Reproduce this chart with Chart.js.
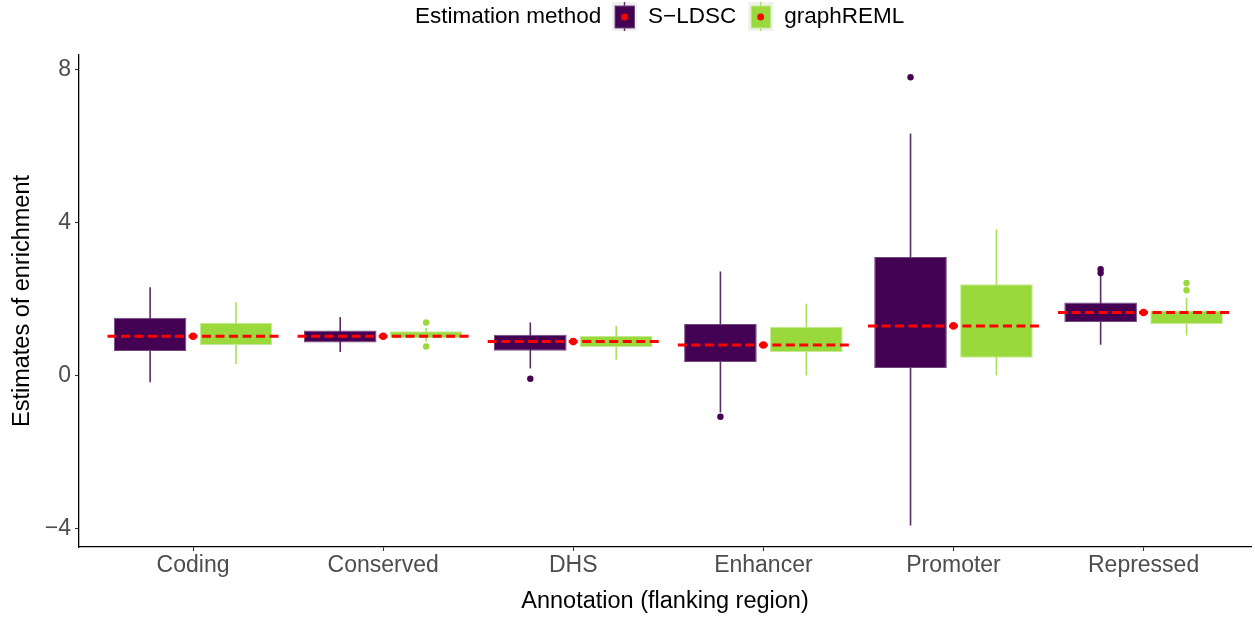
<!DOCTYPE html>
<html>
<head>
<meta charset="utf-8">
<title>Estimates of enrichment by annotation</title>
<script src="https://cdn.jsdelivr.net/npm/chart.js@4.4.1/dist/chart.umd.min.js"></script>
<style>
  html, body { margin: 0; padding: 0; background: #ffffff; }
  #wrap { position: relative; width: 1255px; height: 619px; }
</style>
</head>
<body>
<div id="wrap"><canvas id="chart"></canvas></div>
<script>
// Annotation categories (flanking regions)
const categories = ['Coding', 'Conserved', 'DHS', 'Enhancer', 'Promoter', 'Repressed'];

// S-LDSC box summaries: whisker ends, quartiles, outlying points
const sldscLow  = [-0.17, 0.62, 0.19, -0.96, -3.91, 0.81];
const sldscQ1   = [0.645, 0.87, 0.65, 0.36, 0.20, 1.40];
const sldscQ3   = [1.51, 1.18, 1.07, 1.35, 3.10, 1.91];
const sldscHigh = [2.31, 1.53, 1.39, 2.72, 6.32, 2.62];
const sldscOut  = [[], [], [-0.08], [-1.07], [7.79], [2.68, 2.78]];

// graphREML box summaries
const remlLow  = [0.305, 0.895, 0.42, 0.01, 0.01, 1.05];
const remlQ1   = [0.80, 0.975, 0.75, 0.62, 0.47, 1.35];
const remlQ3   = [1.38, 1.16, 1.04, 1.28, 2.39, 1.70];
const remlHigh = [1.92, 1.245, 1.30, 1.88, 3.82, 2.03];
const remlOut  = [[], [0.765, 1.39], [], [], [], [2.23, 2.42]];

// Reference estimate per annotation (red dashed line and dot)
const referenceEstimate = [1.03, 1.03, 0.89, 0.80, 1.30, 1.65];

// Axis ticks
const yTicks = [-4, 0, 4, 8];

const PURPLE = '#440154';
const GREEN = '#9AD93C';
const FONT = "'Liberation Sans', Arial, Helvetica, sans-serif";

const methods = [
  { name: 'S\u2212LDSC', fill: PURPLE, border: '#6f4a7a', line: '#5b2a69',
    low: sldscLow, q1: sldscQ1, q3: sldscQ3, high: sldscHigh, out: sldscOut },
  { name: 'graphREML', fill: GREEN, border: '#c4ea93', line: '#a8df5c',
    low: remlLow, q1: remlQ1, q3: remlQ3, high: remlHigh, out: remlOut }
];

// Dashed reference segments, one per category, broken by null points
const refLine = [];
referenceEstimate.forEach((v, i) => {
  refLine.push({ x: i + 1 - 0.45, y: v }, { x: i + 1 + 0.45, y: v }, { x: i + 1.5, y: null });
});

// Whiskers and outliers drawn under the boxes, positioned on the bar elements
const boxWhiskers = {
  id: 'boxWhiskers',
  beforeDatasetsDraw(chart) {
    const ctx = chart.ctx;
    const ys = chart.scales.y;
    methods.forEach((m, k) => {
      const meta = chart.getDatasetMeta(k);
      meta.data.forEach((bar, i) => {
        ctx.save();
        ctx.strokeStyle = m.line;
        ctx.lineWidth = 1.6;
        ctx.beginPath();
        ctx.moveTo(bar.x, ys.getPixelForValue(m.low[i]));
        ctx.lineTo(bar.x, ys.getPixelForValue(m.high[i]));
        ctx.stroke();
        ctx.fillStyle = m.fill;
        m.out[i].forEach(v => {
          ctx.beginPath();
          ctx.arc(bar.x, ys.getPixelForValue(v), 3.2, 0, Math.PI * 2);
          ctx.fill();
        });
        ctx.restore();
      });
    });
  }
};

// Legend across the top: title followed by boxplot keys
const topLegend = {
  id: 'topLegend',
  afterDraw(chart) {
    const ctx = chart.ctx;
    const cy = 17;
    ctx.save();
    ctx.font = '22.5px ' + FONT;
    ctx.textBaseline = 'middle';
    ctx.textAlign = 'left';
    ctx.fillStyle = '#000000';
    ctx.fillText('Estimation method', 415, cy);
    let x = 612;
    methods.forEach(m => {
      // key background
      ctx.fillStyle = '#f0f0f0';
      ctx.fillRect(x, cy - 15, 25, 29);
      const cx = x + 12.5;
      // whisker
      ctx.strokeStyle = m.line;
      ctx.lineWidth = 1.4;
      ctx.beginPath();
      ctx.moveTo(cx, cy - 15);
      ctx.lineTo(cx, cy + 14);
      ctx.stroke();
      // box
      ctx.fillStyle = m.fill;
      ctx.fillRect(x + 3, cy - 11, 19.5, 22);
      ctx.strokeStyle = m.border;
      ctx.lineWidth = 1;
      ctx.strokeRect(x + 3, cy - 11, 19.5, 22);
      // reference dot
      ctx.fillStyle = '#ff0000';
      ctx.beginPath();
      ctx.arc(cx, cy, 3.4, 0, Math.PI * 2);
      ctx.fill();
      ctx.fillStyle = '#000000';
      ctx.fillText(m.name, x + 36, cy);
      x += 36 + ctx.measureText(m.name).width + 12;
    });
    ctx.restore();
  }
};

Chart.defaults.font.family = FONT;

new Chart(document.getElementById('chart'), {
  type: 'bar',
  data: {
    datasets: [
      ...methods.map(m => ({
        label: m.name,
        data: categories.map((c, i) => ({ x: i + 1, y: [m.q1[i], m.q3[i]] })),
        backgroundColor: m.fill,
        borderColor: m.border,
        borderWidth: 1,
        borderSkipped: false,
        categoryPercentage: 0.904,
        barPercentage: 0.845,
        order: 3
      })),
      {
        type: 'line',
        label: 'reference',
        data: refLine,
        borderColor: '#ff0000',
        borderWidth: 3,
        borderDash: [9, 4.5],
        pointRadius: 0,
        spanGaps: false,
        fill: false,
        order: 2
      },
      {
        type: 'scatter',
        label: 'reference point',
        data: referenceEstimate.map((v, i) => ({ x: i + 1, y: v })),
        backgroundColor: '#ff0000',
        borderColor: '#ff0000',
        pointRadius: 3.8,
        borderWidth: 0,
        order: 1
      }
    ]
  },
  options: {
    responsive: true,
    maintainAspectRatio: false,
    animation: false,
    layout: { padding: { top: 55, right: 0, left: 0, bottom: 0 } },
    plugins: {
      legend: { display: false },
      tooltip: { enabled: false }
    },
    scales: {
      x: {
        type: 'linear',
        min: 0.4,
        max: 6.565,
        offset: false,
        afterBuildTicks: s => { s.ticks = categories.map((c, i) => ({ value: i + 1 })); },
        afterFit: s => { s.height = 72; },
        ticks: {
          autoSkip: false,
          maxRotation: 0,
          padding: 1,
          color: '#4d4d4d',
          font: { size: 23 },
          callback: v => categories[Math.round(v) - 1]
        },
        grid: { offset: false, drawOnChartArea: false, drawTicks: true, tickLength: 4, tickColor: '#333333', tickWidth: 1.1 },
        border: { display: true, color: '#000000', width: 1.3 },
        title: { display: true, text: 'Annotation (flanking region)', color: '#000000', font: { size: 23.5 }, padding: { top: 0, bottom: 3 } }
      },
      y: {
        type: 'linear',
        min: -4.47,
        max: 8.37,
        afterBuildTicks: s => { s.ticks = yTicks.map(v => ({ value: v })); },
        afterFit: s => { s.width = 79; },
        ticks: {
          padding: 4,
          color: '#4d4d4d',
          font: { size: 23 },
          callback: v => (v < 0 ? '\u2212' + Math.abs(v) : String(v))
        },
        grid: { offset: false, drawOnChartArea: false, drawTicks: true, tickLength: 4, tickColor: '#333333', tickWidth: 1.1 },
        border: { display: true, color: '#000000', width: 1.3 },
        title: { display: true, text: 'Estimates of enrichment', color: '#000000', font: { size: 23.5 }, padding: { top: 8, bottom: 0 } }
      }
    }
  },
  plugins: [boxWhiskers, topLegend]
});
</script>
</body>
</html>
